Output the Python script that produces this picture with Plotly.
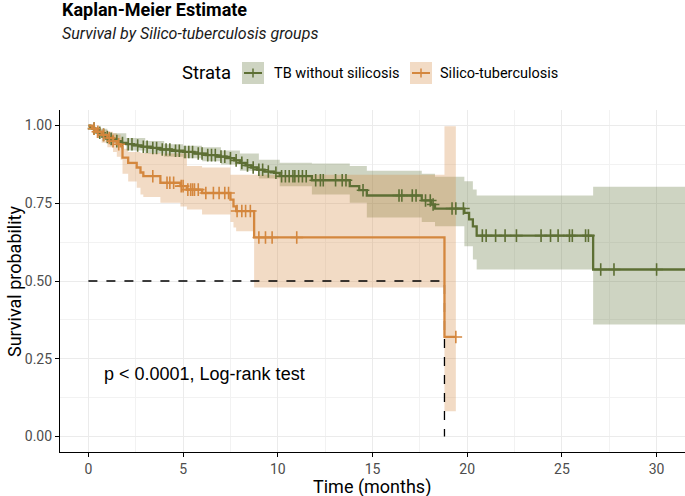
import numpy as np
import plotly.graph_objects as go

# ---- data ----
GROUPS = ["TB without silicosis", "Silico-tuberculosis"]

# TB without silicosis: step curve
tb_t = [0, 0.1, 0.2, 0.35, 0.5, 0.7, 0.9, 1.1, 1.4, 1.7, 2.0, 2.4, 2.8, 3.3, 3.8,
        4.4, 5.0, 5.6, 6.2, 6.8, 7.3, 7.7, 8.0, 8.3, 8.6, 8.9, 9.3, 9.8, 10.1,
        11.8, 13.8, 14.3, 14.7, 17.6, 18.1, 18.3, 19.85, 20.1, 20.3, 20.5, 26.65]
tb_s = [1.0, 0.995, 0.99, 0.985, 0.977, 0.97, 0.963, 0.957, 0.95, 0.944, 0.94,
        0.936, 0.932, 0.928, 0.923, 0.919, 0.915, 0.91, 0.905, 0.9, 0.895, 0.888,
        0.88, 0.872, 0.865, 0.858, 0.852, 0.848, 0.837, 0.824, 0.805, 0.792,
        0.775, 0.759, 0.746, 0.733, 0.719, 0.698, 0.676, 0.646, 0.537]
tb_end = 32.0
tb_censor = [0.3, 0.6, 0.8, 1.0, 1.2, 1.5, 1.8, 2.1, 2.3, 2.6, 2.9, 3.1, 3.4, 3.6,
             3.9, 4.1, 4.3, 4.6, 4.8, 5.1, 5.3, 5.5, 5.8, 6.0, 6.3, 6.5, 6.7, 7.0,
             7.2, 7.5, 7.8, 8.1, 8.4, 8.7, 9.0, 9.2, 9.5, 9.9, 10.2, 10.4, 10.6,
             10.8, 10.9, 11.1, 11.3, 11.5, 12.0, 12.25, 12.4, 13.05, 13.4, 13.6,
             14.5, 16.4, 16.55, 17.1, 17.3, 17.8, 18.05, 18.2, 19.2, 19.4, 19.8,
             20.8, 21.0, 21.5, 22.0, 22.6, 23.9, 24.4, 24.8, 25.4, 25.55, 26.25,
             26.4, 27.05, 27.75, 30.0]
tb_band_t = [0, 0.5, 1, 2, 3, 4, 5, 6, 7, 8, 9, 10.1, 11.8, 13.8, 14.7, 17.6,
             18.3, 19.85, 20.3, 20.5, 26.65, 32]
tb_band_hi = [1, 0.99, 0.975, 0.96, 0.95, 0.94, 0.935, 0.93, 0.92, 0.91, 0.89,
              0.88, 0.878, 0.87, 0.855, 0.845, 0.835, 0.821, 0.794, 0.775, 0.803,
              0.803]
tb_band_lo = [1, 0.965, 0.945, 0.92, 0.91, 0.9, 0.895, 0.885, 0.875, 0.855, 0.83,
              0.805, 0.778, 0.752, 0.704, 0.69, 0.676, 0.612, 0.569, 0.537, 0.36,
              0.36]

# Silico-tuberculosis: step curve
st_t = [0, 0.2, 0.4, 0.7, 1.0, 1.3, 1.5, 1.7, 1.8, 2.1, 2.55, 2.75, 2.9, 3.8,
        4.86, 5.2, 6.0, 7.5, 7.66, 7.8, 8.75, 18.8]
st_s = [1.0, 0.99, 0.98, 0.97, 0.96, 0.95, 0.94, 0.933, 0.897, 0.88, 0.865,
        0.849, 0.837, 0.816, 0.805, 0.794, 0.783, 0.762, 0.74, 0.725, 0.64, 0.32]
st_end = 19.4
st_censor = [0.3, 0.5, 0.8, 1.1, 1.3, 1.6, 3.4, 4.15, 4.3, 4.5, 4.9, 5.0, 5.25,
             5.4, 5.5, 5.6, 5.8, 6.2, 6.6, 6.9, 7.2, 7.4, 7.85, 8.1, 8.3, 8.55,
             9.0, 9.35, 9.7, 11.0, 19.4]
st_band_t = [0, 0.2, 0.4, 0.7, 1.0, 1.3, 1.5, 1.7, 1.8, 2.1, 2.55, 2.75, 2.9, 3.8,
             4.86, 5.2, 6.0, 7.5, 7.66, 7.8, 8.75, 18.8, 19.4]
st_band_hi = [1, 0.998, 0.99, 0.985, 0.98, 0.975, 0.97, 0.96, 0.925, 0.915, 0.915,
              0.912, 0.912, 0.91, 0.91, 0.87, 0.865, 0.842, 0.842, 0.842, 0.842,
              0.998, 0.998]
st_band_lo = [1, 0.975, 0.96, 0.945, 0.93, 0.915, 0.9, 0.89, 0.845, 0.82, 0.8,
              0.778, 0.77, 0.752, 0.74, 0.73, 0.714, 0.69, 0.672, 0.66, 0.479,
              0.081, 0.081]

X_TICKS = [0, 5, 10, 15, 20, 25, 30]
Y_TICKS = [0, 0.25, 0.5, 0.75, 1.0]
PVAL_TEXT = "p < 0.0001, Log-rank test"

GREEN = "#5d6f34"
ORANGE = "#d4873e"
GREEN_FILL = "rgba(93,111,52,0.3)"
ORANGE_FILL = "rgba(212,135,62,0.3)"


def step_at(times, surv, x):
    idx = np.searchsorted(np.asarray(times), np.asarray(x), side="right") - 1
    return np.asarray(surv)[idx]


# pixel helpers for paper-placed items (panel: x 60..685, y 110..452)
def px(x):
    return (x - 60) / 625


def py(y):
    return (452 - y) / 342


fig = go.Figure()

groups = [
    (tb_t, tb_s, tb_end, tb_censor, tb_band_t, tb_band_hi, tb_band_lo, GREEN, GREEN_FILL),
    (st_t, st_s, st_end, st_censor, st_band_t, st_band_hi, st_band_lo, ORANGE, ORANGE_FILL),
]

# confidence bands
for t, s, end, cen, bt, bhi, blo, col, fcol in groups:
    fig.add_trace(go.Scatter(x=bt, y=blo, mode="lines", line=dict(width=0, shape="hv"),
                             showlegend=False, hoverinfo="skip"))
    fig.add_trace(go.Scatter(x=bt, y=bhi, mode="lines", line=dict(width=0, shape="hv"),
                             fill="tonexty", fillcolor=fcol, showlegend=False,
                             hoverinfo="skip"))

# median line (orange group reaches 0.5)
st_arr = np.asarray(st_s)
med = st_t[int(np.argmax(st_arr <= 0.5))]
fig.add_trace(go.Scatter(x=[0, med, med], y=[0.5, 0.5, 0], mode="lines",
                         line=dict(color="black", width=1.3, dash="dash"),
                         showlegend=False, hoverinfo="skip"))

# survival curves + censor marks
for (t, s, end, cen, bt, bhi, blo, col, fcol), name in zip(groups, GROUPS):
    fig.add_trace(go.Scatter(x=list(t) + [end], y=list(s) + [s[-1]], mode="lines",
                             line=dict(color=col, width=2.3, shape="hv"),
                             name=name, showlegend=False))
    fig.add_trace(go.Scatter(x=cen, y=step_at(t, s, cen), mode="markers",
                             marker=dict(symbol="cross-thin", size=9,
                                         line=dict(width=1.6, color=col)),
                             showlegend=False, hoverinfo="skip"))

fig.add_annotation(x=0.7, y=0.2, xref="x", yref="y", text=PVAL_TEXT,
                   showarrow=False, xanchor="left", yanchor="middle",
                   font=dict(family="Liberation Sans", size=18, color="black"))

# titles
fig.add_annotation(x=0, y=py(10), xref="paper", yref="paper",
                   text="<b>Kaplan-Meier Estimate</b>", showarrow=False,
                   xanchor="left", yanchor="middle",
                   font=dict(family="Roboto", size=18, color="black"))
fig.add_annotation(x=0, y=py(34), xref="paper", yref="paper",
                   text="<i>Survival by Silico-tuberculosis groups</i>",
                   showarrow=False, xanchor="left", yanchor="middle",
                   font=dict(family="Roboto", size=16, color="#1a1a1a"))

# axis titles
fig.add_annotation(x=px(14), y=py(281), xref="paper", yref="paper",
                   text="Survival probability", textangle=-90, showarrow=False,
                   xanchor="center", yanchor="middle",
                   font=dict(family="Roboto", size=18, color="black"))
fig.add_annotation(x=px(372), y=py(487), xref="paper", yref="paper",
                   text="Time (months)", showarrow=False,
                   xanchor="center", yanchor="middle",
                   font=dict(family="Roboto", size=18, color="black"))

# legend drawn by hand (ggplot style keys)
fig.add_annotation(x=px(233), y=py(73), xref="paper", yref="paper", text="Strata",
                   showarrow=False, xanchor="right", yanchor="middle",
                   font=dict(family="Roboto", size=18.5, color="black"))
legend_keys = [(242, GREEN, GREEN_FILL, 272), (410, ORANGE, ORANGE_FILL, 438)]
for (kx, col, fcol, tx), name in zip(legend_keys, GROUPS):
    fig.add_shape(type="rect", xref="paper", yref="paper",
                  x0=px(kx), x1=px(kx + 22), y0=py(84), y1=py(62),
                  fillcolor=fcol, line=dict(width=0))
    fig.add_shape(type="line", xref="paper", yref="paper",
                  x0=px(kx + 2), x1=px(kx + 20), y0=py(73), y1=py(73),
                  line=dict(color=col, width=2))
    fig.add_shape(type="line", xref="paper", yref="paper",
                  x0=px(kx + 11), x1=px(kx + 11), y0=py(68.5), y1=py(77.5),
                  line=dict(color=col, width=1.5))
    fig.add_annotation(x=px(tx), y=py(73), xref="paper", yref="paper", text=name,
                       showarrow=False, xanchor="left", yanchor="middle",
                       font=dict(family="Roboto", size=14.5, color="black"))

axis_common = dict(showline=True, linecolor="black", linewidth=1.2,
                   ticks="outside", ticklen=4, tickcolor="black", tickwidth=1,
                   showgrid=True, gridcolor="#ebebeb", gridwidth=1.1,
                   zeroline=False,
                   tickfont=dict(family="Roboto", size=14, color="#4d4d4d"))

fig.update_xaxes(range=[-1.5, 31.5], tickvals=X_TICKS,
                 minor=dict(dtick=2.5, tick0=0, showgrid=True, gridcolor="#f2f2f2",
                            gridwidth=1, ticks=""),
                 **axis_common)
fig.update_yaxes(range=[-0.05, 1.05], tickvals=Y_TICKS, tickformat=".2f",
                 minor=dict(dtick=0.125, tick0=0, showgrid=True, gridcolor="#f2f2f2",
                            gridwidth=1, ticks=""),
                 **axis_common)

fig.update_layout(
    width=685, height=496,
    margin=dict(l=60, r=0, t=110, b=44),
    paper_bgcolor="white", plot_bgcolor="white",
    showlegend=False, hovermode=False,
    font=dict(family="Roboto"),
)

# drop the page's default body margin so the figure sits at the window corner
fig.write_html("out.html",
               config={"displayModeBar": False},
               post_script="document.body.style.margin='0';"
                           "document.body.style.overflow='hidden';")
